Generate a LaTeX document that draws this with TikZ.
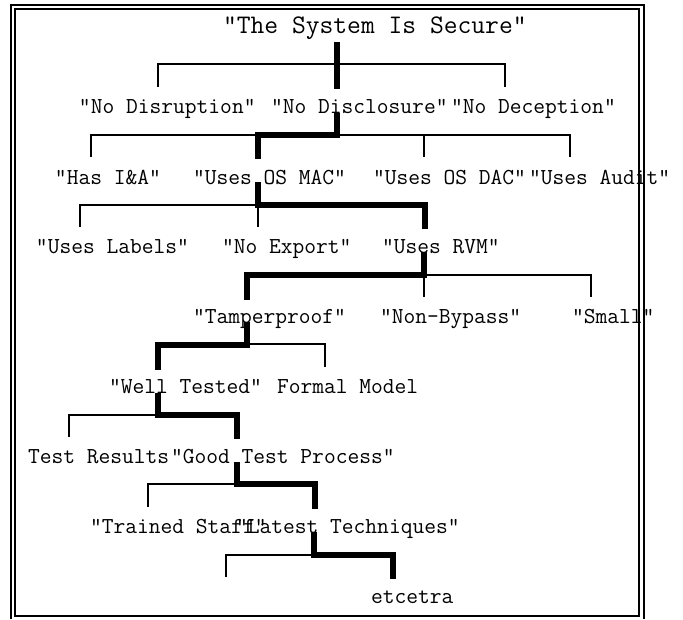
\documentclass[tikz,border=0pt]{standalone}
\usepackage{fontspec}
\tikzset{
  lbl/.style={anchor=base west, inner sep=0pt, outer sep=0pt, font=\ttfamily\fontsize{17.14pt}{20pt}\selectfont},
  ttl/.style={anchor=base west, inner sep=0pt, outer sep=0pt, font=\ttfamily\fontsize{20.1pt}{23pt}\selectfont},
  thickpath/.style={line width=4.5pt, line join=miter},
  thinpath/.style={line width=1pt},
  framepath/.style={line width=1.5pt}
}
\begin{document}
\begin{tikzpicture}[x=0.75pt, y=-0.75pt]
\useasboundingbox (0,0) rectangle (683,619);
% frame
\draw[framepath] (11,619) -- (11,5) -- (644,5) -- (644,619);
\draw[framepath] (15,9) rectangle (639,616);
% labels
\node[ttl] (top) at (223,33) {“The System Is Secure”};
\node[lbl] (disr) at (79,113) {“No Disruption”};
\node[lbl] (discl) at (271,113) {“No Disclosure”};
\node[lbl] (dec) at (451,113) {“No Deception”};
\node[lbl] (ia) at (55,184) {“Has I\&A”};
\node[lbl] (mac) at (193,184) {“Uses OS MAC”};
\node[lbl] (dac) at (373,184) {“Uses OS DAC”};
\node[lbl] (aud) at (529,184) {“Uses Audit”};
\node[lbl] (labels) at (36,253) {“Uses Labels”};
\node[lbl] (export) at (222,253) {“No Export”};
\node[lbl] (rvm) at (382,253) {“Uses RVM”};
\node[lbl] (tamper) at (193,323) {“Tamperproof”};
\node[lbl] (bypass) at (380,323) {“Non-Bypass”};
\node[lbl] (small) at (572,323) {“Small”};
\node[lbl] (tested) at (109,393) {“Well Tested”};
\node[lbl] (formal) at (277,393) {Formal Model};
\node[lbl] (results) at (28,463) {Test Results};
\node[lbl] (process) at (171,463) {“Good Test Process”};
\node[lbl] (staff) at (90,533) {“Trained Staff”};
\node[lbl] (latest) at (236,533) {“Latest Techniques”};
\node[lbl] (etc) at (371,603) {etcetra};
% level 1
\coordinate (a0) at (337,42); \coordinate (a1) at (337,89);
\coordinate (a2) at (158,87); \coordinate (a3) at (158,64);
\coordinate (a4) at (505,64); \coordinate (a5) at (505,87);
\draw[thinpath] (a2) -- (a3) -- (a4) -- (a5);
\draw[thickpath] (a0) -- (a1);
% level 2
\coordinate (b0) at (337,113); \coordinate (b1) at (337,135);
\coordinate (b2) at (258,135); \coordinate (b3) at (258,159);
\coordinate (b4) at (91,157); \coordinate (b5) at (91,135);
\coordinate (b6) at (570,135); \coordinate (b7) at (570,157);
\coordinate (b8) at (424,135); \coordinate (b9) at (424,157);
\draw[thinpath] (b4) -- (b5) -- (b6) -- (b7);
\draw[thinpath] (b8) -- (b9);
\draw[thickpath] (b0) -- (b1) -- (b2) -- (b3);
% level 3
\coordinate (c0) at (258,182); \coordinate (c1) at (258,205);
\coordinate (c2) at (425,205); \coordinate (c3) at (425,229);
\coordinate (c4) at (80,227); \coordinate (c5) at (80,205);
\coordinate (c6) at (258,227);
\draw[thinpath] (c4) -- (c5) -- (c1) -- (c6);
\draw[thickpath] (c0) -- (c1) -- (c2) -- (c3);
% level 4
\coordinate (d0) at (424,252); \coordinate (d1) at (424,275);
\coordinate (d2) at (247,275); \coordinate (d3) at (247,300);
\coordinate (d4) at (591,275); \coordinate (d5) at (591,297);
\coordinate (d6) at (424,297);
\draw[thinpath] (d1) -- (d4) -- (d5);
\draw[thinpath] (d1) -- (d6);
\draw[thickpath] (d0) -- (d1) -- (d2) -- (d3);
% level 5
\coordinate (e0) at (247,322); \coordinate (e1) at (247,345);
\coordinate (e2) at (158,345); \coordinate (e3) at (158,370);
\coordinate (e4) at (325,344); \coordinate (e5) at (325,367);
\coordinate (e6) at (247,344);
\draw[thinpath] (e6) -- (e4) -- (e5);
\draw[thickpath] (e0) -- (e1) -- (e2) -- (e3);
% level 6
\coordinate (f0) at (158,393); \coordinate (f1) at (158,415);
\coordinate (f2) at (237,415); \coordinate (f3) at (237,439);
\coordinate (f4) at (69,415); \coordinate (f5) at (69,437);
\draw[thinpath] (f1) -- (f4) -- (f5);
\draw[thickpath] (f0) -- (f1) -- (f2) -- (f3);
% level 7
\coordinate (g0) at (237,462); \coordinate (g1) at (237,484);
\coordinate (g2) at (315,484); \coordinate (g3) at (315,509);
\coordinate (g4) at (148,484); \coordinate (g5) at (148,507);
\draw[thinpath] (g1) -- (g4) -- (g5);
\draw[thickpath] (g0) -- (g1) -- (g2) -- (g3);
% level 8
\coordinate (h0) at (314,532); \coordinate (h1) at (314,555);
\coordinate (h2) at (393,555); \coordinate (h3) at (393,579);
\coordinate (h4) at (226,555); \coordinate (h5) at (226,577);
\draw[thinpath] (h1) -- (h4) -- (h5);
\draw[thickpath] (h0) -- (h1) -- (h2) -- (h3);
\end{tikzpicture}
\end{document}
